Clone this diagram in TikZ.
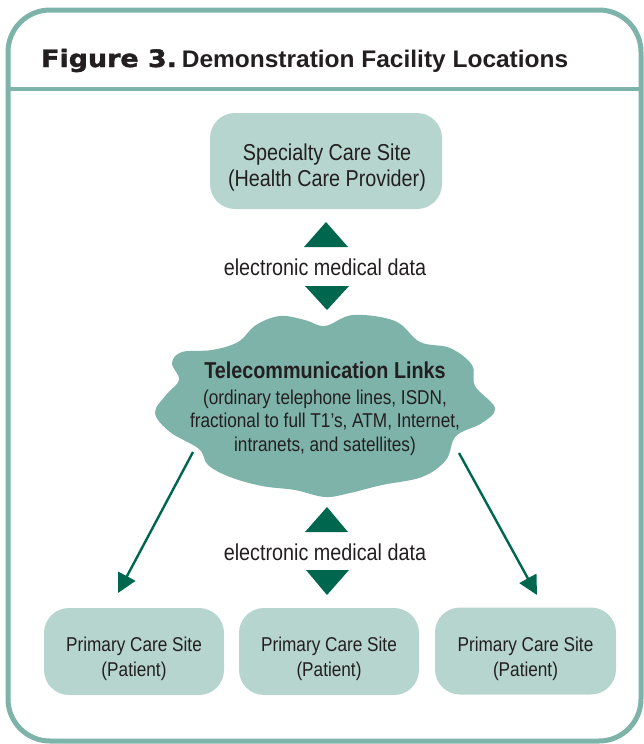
\documentclass[tikz,border=0pt]{standalone}
\usepackage{fontspec}
\setmainfont{Liberation Sans}[FakeStretch=0.86]
\newfontfamily\figfont{DejaVu Sans}[FakeStretch=1.12, FakeBold=1.6]
\newfontfamily\titlefont{Liberation Sans}[FakeStretch=1.02]
\usetikzlibrary{arrows.meta}
\definecolor{framec}{HTML}{7DB3A9}
\definecolor{boxc}{HTML}{B7D5CF}
\definecolor{darkg}{HTML}{00674F}
\definecolor{txt}{HTML}{231F20}
\tikzset{
  sitebox/.style={fill=boxc, rounded corners=25pt, inner sep=0pt},
  lbl/.style={text=txt, inner sep=0pt, anchor=base},
  tri/.style={fill=darkg},
  link/.style={draw=darkg, line width=2.4pt, -{Triangle[length=19pt,width=19pt]}},
}
\begin{document}
\begin{tikzpicture}[x=1pt,y=-1pt]
\useasboundingbox (0,0) rectangle (644,744);
% frame
\draw[framec, line width=5pt, rounded corners=42pt] (8,10) rectangle (641,741);
\draw[framec, line width=4pt] (8,89) -- (641,89);
\node[lbl, anchor=base west] (title) at (41,67)
  {{\figfont\fontsize{24}{28}\selectfont\bfseries Figure 3.}\hspace{5pt}{\titlefont\fontsize{24}{28}\selectfont\bfseries Demonstration Facility Locations}};
% specialty
\node[sitebox, minimum width=232pt, minimum height=96pt] (spec) at (326,161) {};
\node[lbl, font=\fontsize{23}{26}\selectfont] (spec1) at (327,160) {Specialty Care Site};
\node[lbl, font=\fontsize{23}{26}\selectfont] (spec2) at (327,186) {(Health Care Provider)};
% top data
\fill[tri] (326,222) -- (304,247) -- (348,247) -- cycle;
\node[lbl, font=\fontsize{23}{26}\selectfont] (emd1) at (325,275) {electronic medical data};
\fill[tri] (305,286) -- (349,286) -- (327,310) -- cycle;
% cloud
\fill[framec] plot[smooth cycle, tension=0.6] coordinates {
 (325,326) (353,315) (395,321) (420,342) (450,348) (472,365) (475,386)
 (495,408) (482,423) (456,436) (446,460) (422,477) (382,485) (350,493)
 (325,497) (295,490) (262,486) (230,477) (208,465) (199,449) (170,432)
 (155,413) (166,395) (179,380) (172,363) (182,352) (212,350) (238,342)
 (256,325) (280,316) (305,320)};
\node[text=txt, align=center, inner sep=0pt] (cloud) at (325,405) {};
\node[lbl, font=\fontsize{23}{26}\selectfont\bfseries] (c1) at (325,378) {Telecommunication Links};
\node[lbl, font=\fontsize{20}{24}\selectfont] (c2) at (325,404) {(ordinary telephone lines, ISDN,};
\node[lbl, font=\fontsize{20}{24}\selectfont] (c3) at (325,427) {fractional to full T1's, ATM, Internet,};
\node[lbl, font=\fontsize{20}{24}\selectfont] (c4) at (325,451) {intranets, and satellites)};
% bottom data
\fill[tri] (327,507) -- (305,532) -- (348,532) -- cycle;
\node[lbl, font=\fontsize{23}{26}\selectfont] (emd2) at (325,560) {electronic medical data};
\fill[tri] (306,570) -- (349,570) -- (327,595) -- cycle;
% primary
\node[sitebox, minimum width=180pt, minimum height=87pt] (p1) at (134,651.5) {};
\node[sitebox, minimum width=180pt, minimum height=87pt] (p2) at (329,651.5) {};
\node[sitebox, minimum width=181pt, minimum height=87pt] (p3) at (525.5,651) {};
\foreach \n/\x in {p1/134, p2/329, p3/525.5}{
  \node[lbl, font=\fontsize{20}{24}\selectfont] (\n a) at (\x,651) {Primary Care Site};
  \node[lbl, font=\fontsize{20}{24}\selectfont] (\n b) at (\x,676) {(Patient)};
}
% arrows
\coordinate (ls) at (193,452);
\coordinate (le) at (118,593);
\coordinate (rs) at (459,453);
\coordinate (re) at (537,595);
\draw[link] (ls) -- (le);
\draw[link] (rs) -- (re);
\end{tikzpicture}
\end{document}
